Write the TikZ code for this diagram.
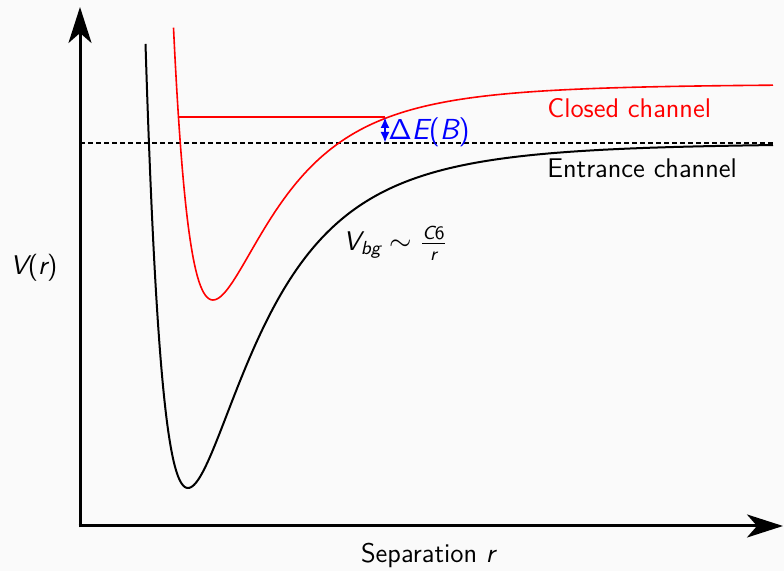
\documentclass[tikz,border=0pt]{standalone}
\usepackage{amsmath}
\usetikzlibrary{arrows.meta}
\definecolor{bgcol}{HTML}{FAFAFA}
\newcommand{\vit}[1]{\text{\sffamily\itshape #1}}
\newcommand{\vup}[1]{\text{\sffamily\upshape #1}}
\begin{document}
\begin{tikzpicture}[x=0.5pt,y=-0.5pt,
  every node/.style={font=\fontsize{13.5}{15}\selectfont\sffamily, inner sep=0pt},
  axis/.style={line width=1.5pt, -{Stealth[length=18pt,width=11.5pt,inset=5pt]}},
  curveblack/.style={line width=1pt, black},
  curvered/.style={line width=0.8pt, red},
  level/.style={line width=0.9pt, red},
  thresh/.style={line width=0.75pt, dash pattern=on 2.5pt off 1.5pt},
  gap/.style={line width=1.1pt, blue, {Latex[length=5.5pt,width=4.5pt]}-{Latex[length=5.5pt,width=4.5pt]}}]
\fill[bgcol] (0,0) rectangle (784,571);
\useasboundingbox (0,0) rectangle (784,571);
% axes
\coordinate (o) at (80,526);
\coordinate (ytip) at (80,7);
\coordinate (xtip) at (783,526);
\draw[axis] ([yshift=-0.75pt]o) -- (ytip);
\draw[axis] ([xshift=-0.75pt]o) -- (xtip);
% threshold
\coordinate (d1) at (80,143);
\coordinate (d2) at (773,143);
\draw[thresh] (d1) -- (d2);
% entrance channel curve (Lennard-Jones shape)
\draw[curveblack] plot[smooth, domain=145.5:773, samples=400, variable=\x]
  ({\x}, {143 - 345*((358/(\x+170))^12 - 2*(358/(\x+170))^6)});
% closed channel curve
\draw[curvered] plot[smooth, domain=173.5:773, samples=400, variable=\x]
  ({\x}, {84 - 216*((335/(\x+122))^12 - 2*(335/(\x+122))^6)});
% bound level
\coordinate (b1) at (178.5,117);
\coordinate (b2) at (385,117);
\draw[level] (b1) -- (b2);
\coordinate (g1) at (385,117);
\coordinate (g2) at (385,143);
\draw[gap] (g1) -- (g2);
% labels
\node[anchor=west, text=red] (closed) at (547,108) {Closed channel};
\node[anchor=west] (entr) at (547,168) {Entrance channel};
\node[anchor=west, text=blue, font=\fontsize{14.5}{16}\selectfont\sffamily] (de) at (388,132) {$\mathsf{\Delta}\vit{E}\vup{(}\vit{B}\vup{)}$};
\node[anchor=west] (vr) at (10,268) {\itshape V\upshape(\itshape r\upshape)};
\node (sep) at (428,555) {Separation \itshape r};
\node[anchor=west] (vbg) at (343,243) {$\vit{V}_{\vit{bg}} \sim \frac{\vit{C}\vup{6}}{\vit{r}}$};
\end{tikzpicture}
\end{document}
